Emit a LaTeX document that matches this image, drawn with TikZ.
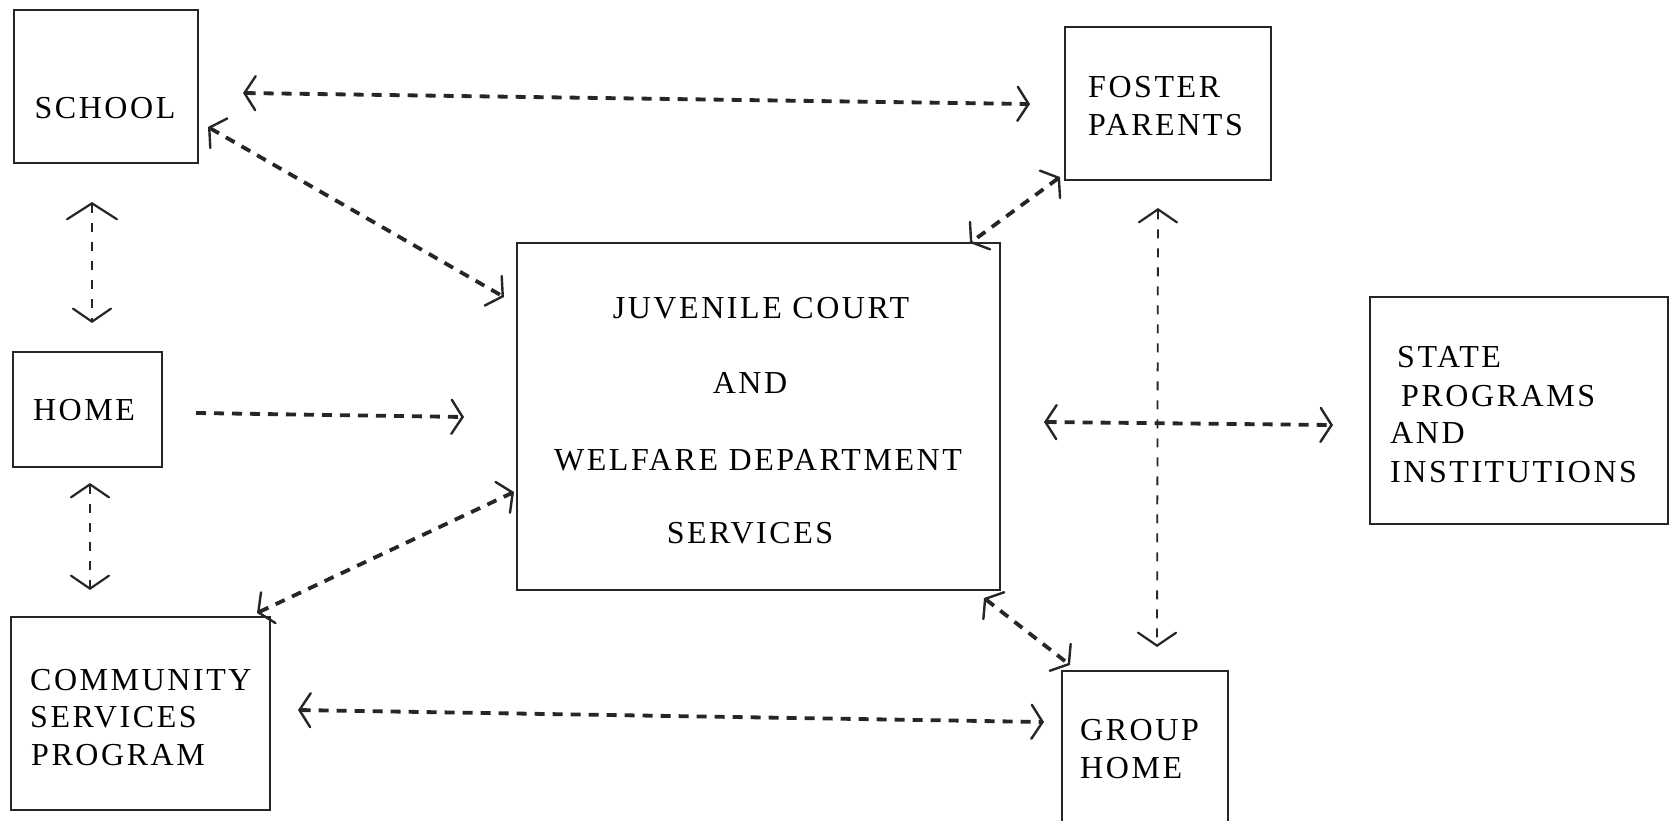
\documentclass[tikz,border=0pt]{standalone}
\usepackage{fontspec}
\setmainfont{Liberation Serif}[LetterSpace=8.0]
\usetikzlibrary{arrows.meta}
\tikzset{
  box/.style={draw=black!85, line width=2.6pt, inner sep=0pt},
  lbl/.style={inner sep=0pt, font=\fontsize{32}{38}\selectfont, text=black},
  lnk/.style={line width=3.8pt, dash pattern=on 10pt off 8pt, draw=black!85},
  vlnk/.style={line width=1.8pt, dash pattern=on 9pt off 10pt, draw=black!85},
  barb/.tip={Straight Barb[length=11pt,width=34pt,line width=2.4pt,line cap=round]},
  wbarb/.tip={Straight Barb[length=16pt,width=50pt,line width=2.2pt,line cap=round]},
  mbarb/.tip={Straight Barb[length=13pt,width=38pt,line width=2.2pt,line cap=round]}
}
\begin{document}
\begin{tikzpicture}[x=1pt,y=-1pt]
\fill[white] (0,0) rectangle (1673,820);
\useasboundingbox (0,0) rectangle (1673,820);

% boxes
\node[box, minimum width=184pt, minimum height=153pt] (school) at (106,86.5) {};
\node[box, minimum width=206pt, minimum height=153pt] (foster) at (1168,103.5) {};
\node[box, minimum width=149pt, minimum height=115pt] (home) at (87.5,409.5) {};
\node[box, minimum width=259pt, minimum height=193pt] (comm) at (140.5,713.5) {};
\node[box, minimum width=483pt, minimum height=347pt] (juv) at (758.5,416.5) {};
\node[box, minimum width=298pt, minimum height=227pt] (state) at (1519,410.5) {};
\node[box, minimum width=166pt, minimum height=159pt] (group) at (1145,750.5) {};

% labels
\node[lbl, anchor=base] (tschool) at (105,118) {SCHOOL};
\node[lbl, anchor=base west] (tfoster1) at (1088,97) {FOSTER};
\node[lbl, anchor=base west] (tfoster2) at (1088,135) {PARENTS};
\node[lbl, anchor=base] (thome) at (84,420) {HOME};
\node[lbl, anchor=base west] (tcomm1) at (30,690) {COMMUNITY};
\node[lbl, anchor=base west] (tcomm2) at (30,727) {SERVICES};
\node[lbl, anchor=base west] (tcomm3) at (31,765) {PROGRAM};
\node[lbl, anchor=base] (tjuv1) at (761,318) {JUVENILE COURT};
\node[lbl, anchor=base] (tjuv2) at (750,393) {AND};
\node[lbl, anchor=base] (tjuv3) at (758,470) {WELFARE DEPARTMENT};
\node[lbl, anchor=base] (tjuv4) at (750,543) {SERVICES};
\node[lbl, anchor=base west] (tstate1) at (1397,367) {STATE};
\node[lbl, anchor=base west] (tstate2) at (1401,406) {PROGRAMS};
\node[lbl, anchor=base west] (tstate3) at (1390,443) {AND};
\node[lbl, anchor=base west] (tstate4) at (1390,482) {INSTITUTIONS};
\node[lbl, anchor=base west] (tgroup1) at (1080,740) {GROUP};
\node[lbl, anchor=base west] (tgroup2) at (1080,778) {HOME};

% connector end points
\coordinate (sf1) at (243,93);   \coordinate (sf2) at (1030,104);
\coordinate (sj1) at (208,127);  \coordinate (sj2) at (504,297);
\coordinate (sh1) at (92,202);   \coordinate (sh2) at (92,323);
\coordinate (hj1) at (196,413);  \coordinate (hj2) at (464,417);
\coordinate (hc1) at (90,483);   \coordinate (hc2) at (90,590);
\coordinate (cj1) at (257,613);  \coordinate (cj2) at (514,492);
\coordinate (cg1) at (298,710);  \coordinate (cg2) at (1044,722);
\coordinate (jg1) at (984,598);  \coordinate (jg2) at (1070,665);
\coordinate (fg1) at (1158,208); \coordinate (fg2) at (1157,647);
\coordinate (fj1) at (1060,177); \coordinate (fj2) at (970,243);
\coordinate (js1) at (1044,422); \coordinate (js2) at (1333,425);

% connectors
\draw[lnk, barb-barb] (sf1) -- (sf2);
\draw[lnk, barb-barb] (sj1) -- (sj2);
\draw[vlnk, wbarb-mbarb] (sh1) -- (sh2);
\draw[lnk, -barb] (hj1) -- (hj2);
\draw[vlnk, mbarb-mbarb] (hc1) -- (hc2);
\draw[lnk, barb-barb] (cj1) -- (cj2);
\draw[lnk, barb-barb] (cg1) -- (cg2);
\draw[lnk, barb-barb] (jg1) -- (jg2);
\draw[vlnk, mbarb-mbarb] (fg1) -- (fg2);
\draw[lnk, barb-barb] (fj1) -- (fj2);
\draw[lnk, barb-barb] (js1) -- (js2);
\end{tikzpicture}
\end{document}
